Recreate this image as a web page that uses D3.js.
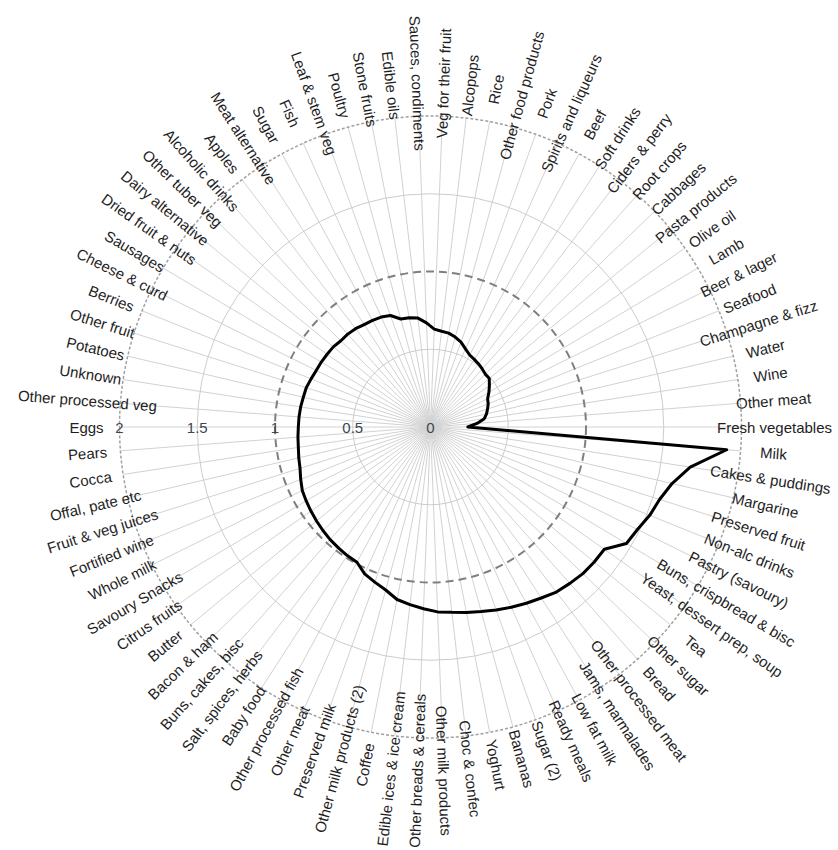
<!DOCTYPE html>
<html>
<head>
<meta charset="utf-8">
<script src="https://cdn.jsdelivr.net/npm/d3@7/dist/d3.min.js"></script>
<style>
  html, body { margin: 0; padding: 0; background: #fff; }
  svg { display: block; }
</style>
</head>
<body>
<svg id="chart" width="838" height="850"></svg>
<script>
// Food categories, listed counter-clockwise starting from the right-hand axis
const categories = [
  "Fresh vegetables", "Other meat", "Wine", "Water", "Champagne & fizz", "Seafood",
  "Beer & lager", "Lamb", "Olive oil", "Pasta products", "Cabbages", "Root crops",
  "Ciders & perry", "Soft drinks", "Beef", "Spirits and liqueurs", "Pork",
  "Other food products", "Rice", "Alcopops", "Veg for their fruit", "Sauces, condiments",
  "Edible oils", "Stone fruits", "Poultry", "Leaf & stem veg", "Fish", "Sugar",
  "Meat alternative", "Apples", "Alcoholic drinks", "Other tuber veg", "Dairy alternative",
  "Dried fruit & nuts", "Sausages", "Cheese & curd", "Berries", "Other fruit", "Potatoes",
  "Unknown", "Other processed veg", "Eggs", "Pears", "Cocca", "Offal, pate etc",
  "Fruit & veg juices", "Fortified wine", "Whole milk", "Savoury Snacks", "Citrus fruits",
  "Butter", "Bacon & ham", "Buns, cakes, bisc", "Salt, spices, herbs", "Baby food",
  "Other processed fish", "Other meat", "Preserved milk", "Other milk products (2)",
  "Coffee", "Edible ices & ice cream", "Other breads & cereals", "Other milk products",
  "Choc & confec", "Yoghurt", "Bananas", "Sugar (2)", "Ready meals", "Low fat milk",
  "Jams, marmalades", "Other processed meat", "Bread", "Other sugar", "Tea",
  "Yeast, dessert prep, soup", "Buns, crispbread & bisc", "Pastry (savoury)",
  "Non-alc drinks", "Preserved fruit", "Margarine", "Cakes & puddings", "Milk"
];

// One value per category
const values = [
  0.24, 0.30, 0.35, 0.37, 0.385, 0.40, 0.41, 0.437, 0.463, 0.49,
  0.49, 0.50, 0.51, 0.518, 0.527, 0.55, 0.58, 0.60, 0.615, 0.62,
  0.63, 0.67, 0.705, 0.715, 0.72, 0.762, 0.775, 0.78, 0.785, 0.795,
  0.80, 0.80, 0.81, 0.813, 0.817, 0.82, 0.828, 0.838, 0.84, 0.845,
  0.848, 0.85, 0.855, 0.86, 0.87, 0.88, 0.90, 0.92, 0.93, 0.94,
  0.95, 0.96, 0.97, 0.977, 0.985, 0.99, 1.035, 1.06, 1.087, 1.13,
  1.15, 1.17, 1.19, 1.20, 1.215, 1.23, 1.25, 1.27, 1.29, 1.31,
  1.335, 1.347, 1.36, 1.365, 1.367, 1.466, 1.485, 1.52, 1.545, 1.595,
  1.69, 1.91
];

// Radial grid levels and their labels
const tickValues = [0, 0.5, 1, 1.5, 2];
const tickLabels = ["0", "0.5", "1", "1.5", "2"];

const cx = 430.5, cy = 427;
const outerR = 311;
const labelR = 344;
const n = categories.length;
const step = 2 * Math.PI / n;

const r = d3.scaleLinear().domain([0, 2]).range([0, outerR]);
// math angle (counter-clockwise from east) for category i
const theta = i => i * step;

const svg = d3.select("#chart");
const g = svg.append("g").attr("transform", `translate(${cx},${cy})`);

// spokes
g.append("g").selectAll("line")
  .data(categories.map((c, i) => i))
  .join("line")
  .attr("x1", 0).attr("y1", 0)
  .attr("x2", i => r(2) * Math.cos(theta(i)))
  .attr("y2", i => -r(2) * Math.sin(theta(i)))
  .attr("stroke", "#d2d2d2")
  .attr("stroke-width", 1);

// grid circles
const rings = tickValues.filter(t => t > 0);
g.append("g").selectAll("circle")
  .data(rings)
  .join("circle")
  .attr("r", t => r(t))
  .attr("fill", "none")
  .attr("stroke", t => t === 1 ? "#7f7f7f" : (t === 2 ? "#a0a0a0" : "#cccccc"))
  .attr("stroke-width", t => t === 1 ? 2 : (t === 2 ? 1.5 : 1))
  .attr("stroke-dasharray", t => t === 1 ? "8,5" : (t === 2 ? "3,2" : null));

// data polygon
const radial = d3.lineRadial()
  .angle((d, i) => Math.PI / 2 - theta(i))
  .radius(d => r(d))
  .curve(d3.curveLinearClosed);

g.append("path")
  .datum(values)
  .attr("d", radial)
  .attr("fill", "none")
  .attr("stroke", "#000")
  .attr("stroke-width", 3)
  .attr("stroke-linejoin", "round");

// value labels along the left horizontal axis
g.append("g").selectAll("text")
  .data(tickValues)
  .join("text")
  .attr("x", t => -r(t))
  .attr("y", 0)
  .attr("text-anchor", "middle")
  .attr("dominant-baseline", "central")
  .attr("font-family", "'Liberation Sans', Arial, sans-serif")
  .attr("font-size", 15)
  .attr("fill", "#3d4650")
  .text((t, i) => tickLabels[i]);

// category labels, rotated along their spoke
g.append("g").selectAll("text")
  .data(categories)
  .join("text")
  .attr("transform", (d, i) => {
    const a = theta(i);
    const x = labelR * Math.cos(a), y = -labelR * Math.sin(a);
    const deg = a * 180 / Math.PI;
    const right = Math.cos(a) > 1e-9 || (Math.abs(Math.cos(a)) <= 1e-9 && Math.sin(a) > 0);
    const rot = right ? -deg : 180 - deg;
    return `translate(${x},${y}) rotate(${rot})`;
  })
  .attr("text-anchor", "middle")
  .attr("dominant-baseline", "central")
  .attr("font-family", "'Liberation Sans', Arial, sans-serif")
  .attr("font-size", 15)
  .attr("fill", "#1e1e1e")
  .text(d => d);
</script>
</body>
</html>
